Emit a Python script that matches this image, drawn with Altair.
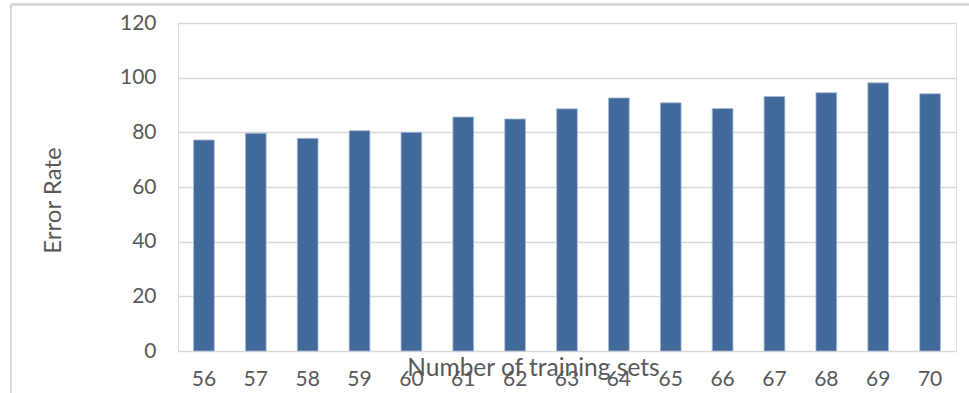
import altair as alt
import pandas as pd

# Number of training sets and the error rate measured for each
training_sets = ["56", "57", "58", "59", "60", "61", "62", "63", "64", "65", "66", "67", "68", "69", "70"]
error_rate = [77.2, 79.7, 77.8, 80.6, 80.0, 85.6, 84.9, 88.6, 92.6, 90.8, 88.7, 93.1, 94.5, 98.1, 94.1]

df = pd.DataFrame({"sets": training_sets, "rate": error_rate})

FONT = "Lato"
GREY = "#595959"
GRID = "#d9d9d9"

PLOT_W = 778
PLOT_H = 328

bars = alt.Chart(df).mark_bar(
    color="#41699a", stroke="#a9bdd8", strokeWidth=0.8
).encode(
    x=alt.X(
        "sets:N",
        sort=training_sets,
        scale=alt.Scale(paddingInner=0.6, paddingOuter=0.3),
        axis=alt.Axis(
            title="Number of training sets",
            titleFont=FONT, titleFontSize=24.5, titleFontWeight="normal", titleColor=GREY,
            titleX=355, titleY=24, titleAnchor="start", titleAlign="center",
            titleBaseline="alphabetic",
            labelFont=FONT, labelFontSize=21, labelColor=GREY, labelAngle=0,
            labelPadding=17, ticks=False, domain=False, grid=False,
        ),
    ),
    y=alt.Y(
        "rate:Q",
        scale=alt.Scale(domain=[0, 120], nice=False),
        axis=alt.Axis(
            title="Error Rate",
            values=[0, 20, 40, 60, 80, 100, 120],
            titleFont=FONT, titleFontSize=24, titleFontWeight="normal", titleColor=GREY,
            titleX=-125, titleY=177, titleAngle=-90, titleAlign="center",
            titleBaseline="middle",
            labelFont=FONT, labelFontSize=21, labelColor=GREY,
            labelPadding=22, ticks=False, domain=False,
            grid=True, gridColor=GRID, gridWidth=1.6,
        ),
    ),
)

# light frame around the chart area
frame_left = alt.Chart(df).mark_rule(color=GRID, strokeWidth=1.5, clip=False).encode(
    x=alt.value(-167), y=alt.value(-19), y2=alt.value(PLOT_H + 60)
)
frame_top = alt.Chart(df).mark_rule(color=GRID, strokeWidth=1.5, clip=False).encode(
    x=alt.value(-167), x2=alt.value(PLOT_W + 40), y=alt.value(-18.5)
)

chart = alt.layer(frame_left, frame_top, bars).properties(
    width=PLOT_W,
    height=PLOT_H,
    autosize="none",
    padding={"left": 178, "top": 23, "right": 13, "bottom": 42},
).configure_view(stroke=None).configure(background="white")

chart.save("out.html", embed_options={"renderer": "svg", "actions": False})
